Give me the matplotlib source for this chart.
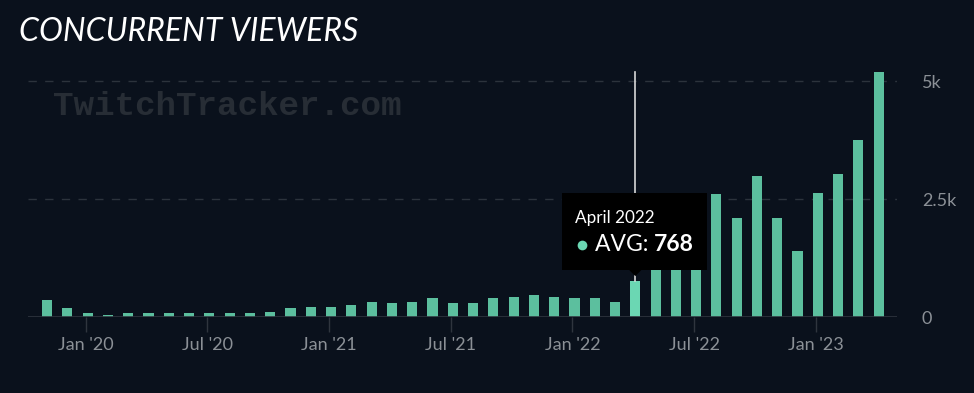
"""
Concurrent viewers per month (TwitchTracker style bar chart).
"""

import matplotlib
import matplotlib.pyplot as plt
import matplotlib.patches as mpatches

matplotlib.use("Agg")

# monthly average concurrent viewers, Nov 2019 .. Apr 2023
MONTHS = [
    "Nov 2019", "Dec 2019",
    "Jan 2020", "Feb 2020", "Mar 2020", "Apr 2020", "May 2020", "Jun 2020",
    "Jul 2020", "Aug 2020", "Sep 2020", "Oct 2020", "Nov 2020", "Dec 2020",
    "Jan 2021", "Feb 2021", "Mar 2021", "Apr 2021", "May 2021", "Jun 2021",
    "Jul 2021", "Aug 2021", "Sep 2021", "Oct 2021", "Nov 2021", "Dec 2021",
    "Jan 2022", "Feb 2022", "Mar 2022", "April 2022", "May 2022", "Jun 2022",
    "Jul 2022", "Aug 2022", "Sep 2022", "Oct 2022", "Nov 2022", "Dec 2022",
    "Jan 2023", "Feb 2023", "Mar 2023", "Apr 2023",
]
AVG_VIEWERS = [
    367, 190,
    85, 50, 85, 85, 85, 85,
    85, 85, 85, 120, 190, 225,
    225, 262, 332, 297, 332, 403,
    297, 297, 403, 438, 473, 438,
    403, 403, 332, 768, 1150, 1350,
    1600, 2606, 2098, 3000, 2098, 1411,
    2640, 3037, 3757, 5198,
]
HIGHLIGHT = "April 2022"

TICK_MONTHS = ["Jan 2020", "Jul 2020", "Jan 2021", "Jul 2021", "Jan 2022", "Jul 2022", "Jan 2023"]
TICK_LABELS = ["Jan '20", "Jul '20", "Jan '21", "Jul '21", "Jan '22", "Jul '22", "Jan '23"]
Y_TICKS = [0, 2500, 5000]
Y_LABELS = ["0", "2.5k", "5k"]

BG = "#0a111c"
BAR = "#5cbf9e"
BAR_HI = "#6bd7b3"
GRID = "#2c333c"
TEXT = "#8b9096"


def main():
    fig = plt.figure(figsize=(9.74, 3.93), dpi=100, facecolor=BG)
    ax = fig.add_axes([0.0287, 0.1926, 0.892, 0.6496], facecolor=BG)

    xs = list(range(len(MONTHS)))
    colors = [BAR_HI if m == HIGHLIGHT else BAR for m in MONTHS]
    ax.bar(xs, AVG_VIEWERS, width=0.5, color=colors, zorder=3, linewidth=0)

    ax.set_xlim(-0.94, len(MONTHS) - 1 + 0.89)
    ax.set_ylim(0, 5410)

    # dashed grid lines
    for y in Y_TICKS[1:]:
        ax.axhline(y, color=GRID, linewidth=1.0, linestyle=(0, (6, 6)), zorder=1)
    ax.axhline(0, color="#2f353e", linewidth=1.2, zorder=4)

    for side in ("top", "right", "left", "bottom"):
        ax.spines[side].set_visible(False)

    ax.set_xticks([MONTHS.index(m) - 0.1 for m in TICK_MONTHS])
    ax.set_xticklabels(TICK_LABELS, fontsize=13, color=TEXT, family="Lato")
    ax.tick_params(axis="x", length=11, width=1, color="#2f353e", pad=3)

    ax.yaxis.tick_right()
    ax.set_yticks(Y_TICKS)
    ax.set_yticklabels(Y_LABELS, fontsize=13, color=TEXT, family="Lato")
    ax.tick_params(axis="y", length=0, pad=18)

    # watermark
    fig.text(0.054, 0.728, "TwitchTracker.com", fontsize=24.7, color="#272d35",
             family="Liberation Mono", fontweight="bold", va="center", ha="left")

    # title
    fig.text(0.020, 0.918, "CONCURRENT VIEWERS", fontsize=23, color="white",
             family="Lato", style="italic", va="center", ha="left")

    # hover crosshair + tooltip
    hi = MONTHS.index(HIGHLIGHT)
    hv = AVG_VIEWERS[hi]
    ax.plot([hi, hi], [hv, max(AVG_VIEWERS)], color="#d8d8d8", linewidth=1.2, zorder=5)

    box_x0, box_x1 = hi - 3.6, hi + 3.55
    box_y0, box_y1 = hv + 235, hv + 1865
    ax.add_patch(mpatches.Rectangle((box_x0, box_y0), box_x1 - box_x0, box_y1 - box_y0,
                                    facecolor="black", edgecolor="none", zorder=6))
    ax.add_patch(mpatches.Polygon([[hi - 0.3, box_y0], [hi + 0.3, box_y0], [hi, box_y0 - 130]],
                                  closed=True, facecolor="black", edgecolor="none", zorder=6))

    ax.text(box_x0 + 0.62, box_y0 + 1100, HIGHLIGHT, fontsize=12.3, color="white",
            family="Lato", va="center", ha="left", zorder=7)
    ax.plot([box_x0 + 0.98], [box_y0 + 535], marker="o", markersize=7, color=BAR_HI,
            markeredgewidth=0, zorder=7)
    t = ax.text(box_x0 + 1.6, box_y0 + 535, "AVG: ", fontsize=16.5, color="white",
                family="Lato", va="center", ha="left", zorder=7)
    ax.annotate(f"{hv}", xycoords=t, xy=(1, 0.5), va="center", ha="left",
                fontsize=16.5, color="white", family="Lato", fontweight="bold", zorder=7)

    fig.savefig("out.png", dpi=100, facecolor=BG)
    plt.close(fig)


if __name__ == "__main__":
    main()
